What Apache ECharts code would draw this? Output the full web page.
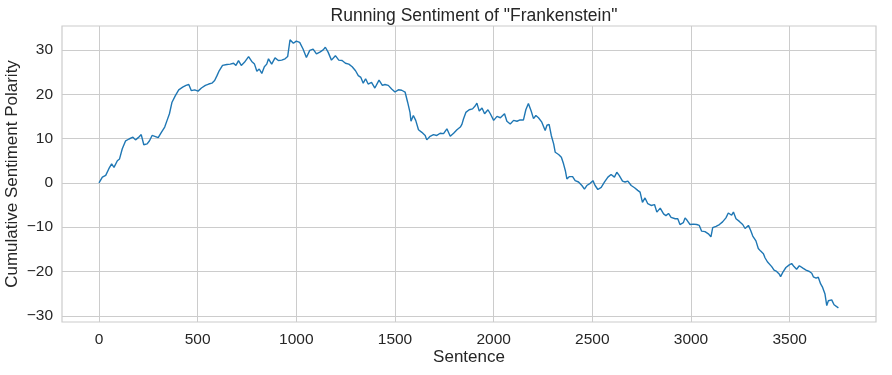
<!DOCTYPE html>
<html>
<head>
<meta charset="utf-8">
<script src="https://cdn.jsdelivr.net/npm/echarts@6/dist/echarts.min.js"></script>
<style>
html,body{margin:0;padding:0;background:#fff;}
#chart{width:892px;height:375px;}
</style>
</head>
<body>
<div id="chart"></div>
<script>
var sentenceIdx = [0,17,34,50,64,76,93,104,118,135,152,172,185,199,214,227,244,256,269,283,300,316,333,345,357,370,387,404,424,441,455,468,485,502,519,539,556,572,586,598,609,626,648,665,682,694,707,721,737,758,774,788,800,812,825,838,850,859,875,892,909,926,943,956,968,985,1000,1017,1034,1051,1068,1085,1102,1119,1136,1147,1161,1178,1198,1215,1232,1249,1266,1283,1300,1314,1327,1339,1351,1364,1381,1398,1419,1436,1449,1466,1483,1500,1517,1534,1551,1564,1576,1581,1593,1605,1619,1636,1653,1661,1678,1695,1712,1729,1746,1763,1780,1797,1814,1831,1839,1847,1859,1876,1893,1907,1915,1927,1941,1954,1971,1983,2000,2017,2034,2055,2067,2084,2101,2118,2134,2151,2163,2176,2190,2202,2214,2227,2244,2261,2270,2281,2292,2304,2312,2329,2343,2354,2363,2371,2383,2400,2413,2430,2447,2460,2472,2489,2503,2514,2528,2545,2562,2579,2595,2612,2624,2636,2653,2666,2680,2697,2714,2730,2742,2754,2767,2781,2798,2815,2827,2844,2861,2873,2886,2899,2920,2933,2944,2961,2970,2981,2995,3012,3029,3042,3054,3071,3088,3101,3110,3127,3144,3160,3177,3189,3198,3206,3215,3228,3245,3262,3274,3291,3302,3313,3329,3341,3353,3367,3375,3387,3397,3409,3421,3434,3448,3454,3465,3481,3498,3510,3522,3535,3549,3556,3569,3583,3600,3612,3620,3634,3645,3657,3667,3679,3688,3696,3704,3713,3725,3735,3747];
var polarity = [0,1.3,1.7,3.2,4.3,3.5,5.0,5.4,7.7,9.5,9.9,10.3,9.7,10.2,10.9,8.6,8.8,9.5,10.7,10.5,10.2,11.4,12.6,14.1,15.6,18.2,19.7,21.0,21.6,22.0,22.2,20.8,21.0,20.7,21.4,22.0,22.3,22.5,23.1,24.2,25.3,26.5,26.7,26.8,27.0,26.5,27.6,26.5,27.2,28.5,27.4,26.8,25.2,25.7,24.7,26.2,26.8,28.0,26.8,28.2,27.6,27.7,28.0,28.5,32.3,31.5,32.0,31.7,30.2,28.3,29.9,30.2,29.1,29.5,30.0,30.6,29.5,27.7,28.7,27.7,27.6,27.0,26.8,26.2,25.3,24.2,23.8,22.5,23.5,22.3,22.7,21.4,23.2,22.0,22.2,22.0,21.2,20.5,21.0,20.9,20.5,18.2,15.9,13.9,15.2,14.1,12.0,11.4,10.7,9.7,10.5,10.9,10.7,11.2,11.1,12.2,10.5,11.2,12.0,12.6,13.2,14.4,15.9,16.5,16.7,17.4,18.0,16.2,16.9,15.6,16.5,15.6,14.1,15.0,14.7,15.6,13.9,13.3,14.1,13.9,14.2,14.2,16.5,17.9,16.2,14.5,15.2,14.7,13.7,11.8,13.0,13.2,10.7,8.8,6.9,6.4,5.8,4.3,2.8,0.9,1.4,1.4,0.5,0.2,-0.6,-1.4,-0.6,-0.1,0.5,-0.6,-1.5,-1.0,0.2,1.3,1.9,1.3,2.4,1.7,0.4,0.2,0.4,-0.6,-1.1,-1.7,-2.1,-4.4,-3.4,-4.7,-5.1,-4.9,-6.6,-5.7,-7.0,-7.4,-6.9,-7.8,-8.1,-8.1,-9.4,-9.0,-7.9,-8.5,-9.4,-9.3,-9.4,-9.6,-10.9,-11.0,-11.5,-12.2,-10.1,-9.8,-9.4,-8.8,-7.9,-6.8,-6.6,-7.3,-6.6,-8.1,-8.7,-9.4,-10.3,-9.6,-10.7,-12.0,-13.1,-14.8,-15.4,-16.0,-16.9,-17.8,-17.5,-18.9,-19.7,-20.0,-20.6,-21.2,-20.2,-19.1,-18.5,-18.2,-18.9,-19.5,-18.7,-18.4,-19.3,-19.7,-20.0,-20.4,-21.2,-21.5,-21.3,-22.8,-23.6,-25.1,-27.7,-26.6,-26.9,-26.4,-27.5,-27.3,-28.2];
var xTicks = [0,500,1000,1500,2000,2500,3000,3500];
var yTicks = [-30,-20,-10,0,10,20,30];

var points = sentenceIdx.map(function(x, i){ return [x, polarity[i]]; });
var fontFam = 'Liberation Sans, Arial, sans-serif';
var chart = echarts.init(document.getElementById('chart'), null, {renderer:'canvas'});
chart.setOption({
  animation: false,
  backgroundColor: '#ffffff',
  title: {
    text: 'Running Sentiment of "Frankenstein"',
    left: 469, top: 2, textAlign: 'center',
    textStyle: {fontFamily: fontFam, fontSize: 17.5, fontWeight: 'normal', color: '#262626'}
  },
  grid: {left: 62, right: 16, top: 26, bottom: 53, containLabel: false, outerBoundsMode: 'none',
    show: true, borderColor: '#cccccc', borderWidth: 1.2, backgroundColor: 'transparent'},
  xAxis: {
    type: 'value', min: -187.5, max: 3937.5,
    name: 'Sentence', nameLocation: 'middle', nameGap: 27, nameMoveOverlap: false,
    nameTextStyle: {fontFamily: fontFam, fontSize: 17, color: '#262626'},
    axisLine: {show: false},
    axisTick: {show: false, customValues: xTicks},
    axisLabel: {customValues: xTicks, fontFamily: fontFam, fontSize: 15.5, color: '#262626', margin: 10,
      formatter: function(v){ return String(v); }},
    splitLine: {show: true, lineStyle: {color: '#cccccc', width: 1}}
  },
  yAxis: {
    type: 'value', min: -31.4, max: 35.4,
    name: 'Cumulative Sentiment Polarity', nameLocation: 'middle', nameGap: 41, nameMoveOverlap: false,
    nameTextStyle: {fontFamily: fontFam, fontSize: 17, color: '#262626'},
    axisLine: {show: false},
    axisTick: {show: false, customValues: yTicks},
    axisLabel: {customValues: yTicks, fontFamily: fontFam, fontSize: 15.5, color: '#262626', margin: 9,
      formatter: function(v){ return v < 0 ? '\u2212' + Math.abs(v) : String(v); }},
    splitLine: {show: true, lineStyle: {color: '#cccccc', width: 1}}
  },
  series: [{
    type: 'line', data: points, showSymbol: false, symbol: 'none',
    lineStyle: {color: '#1f77b4', width: 1.4}, smooth: false
  }]
});
</script>
</body>
</html>
